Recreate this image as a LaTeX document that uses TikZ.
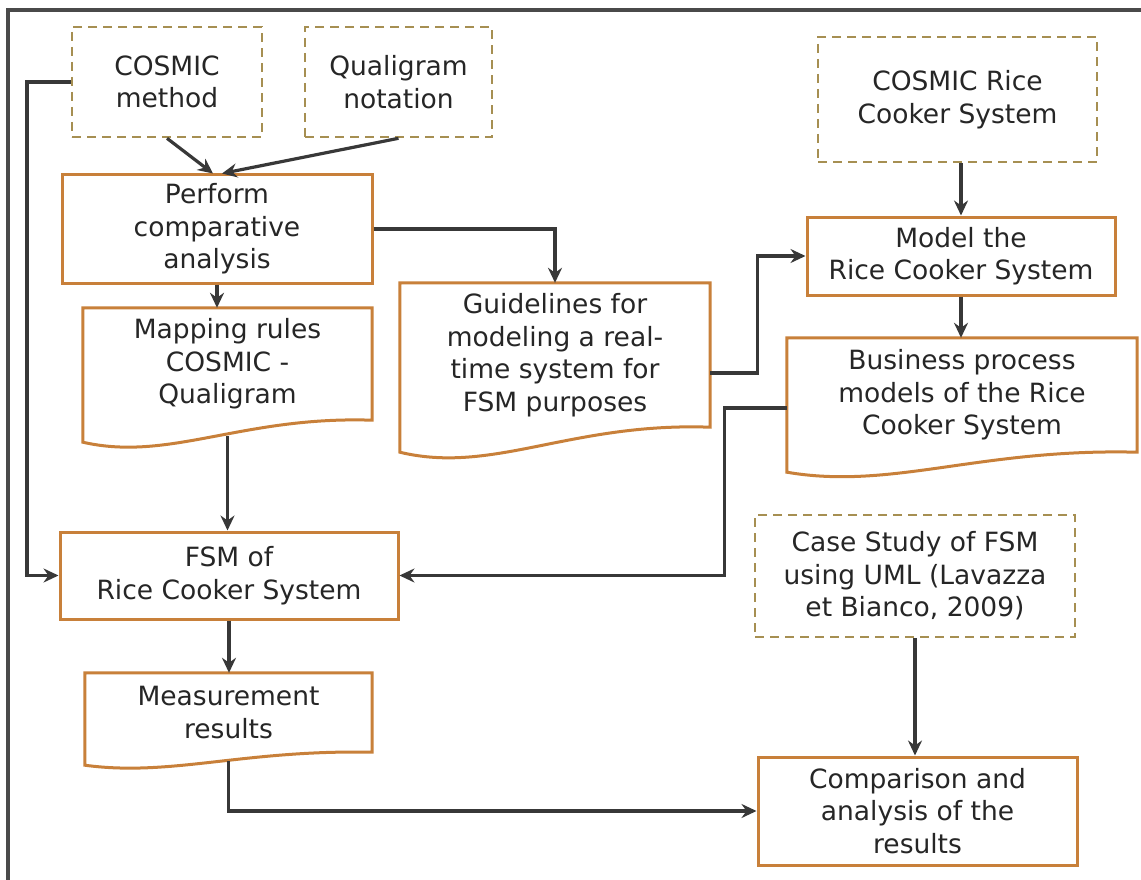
\documentclass[tikz,border=0pt]{standalone}
\usepackage{fontspec}
\setmainfont{DejaVu Sans}
\usetikzlibrary{arrows.meta,calc}
\definecolor{boxedge}{HTML}{C8803A}
\definecolor{dashedge}{HTML}{A68F52}
\definecolor{wire}{HTML}{383838}
\definecolor{ink}{HTML}{262626}
\definecolor{framegray}{HTML}{4A4A4A}

% document-shaped outline: wavy lower edge, left corner #2 below the right one
\newcommand\docoutline[2]{%
  \draw[docedge] (#1.south east)
    .. controls ($(#1.south west)!0.55!(#1.south east)+(0,-0.2*#2)$)
           and ($(#1.south west)!0.3!(#1.south east)+(0,1.9*#2)$)
    .. ($(#1.south west)+(0,#2)$) -- (#1.north west) -- (#1.north east) -- cycle;}

\begin{document}
\begin{tikzpicture}[x=1pt,y=-1pt,
  every node/.style={font=\fontsize{26.5}{32.5}\selectfont, text=ink,
                     align=center, inner sep=0pt},
  procbox/.style={draw=boxedge, line width=3pt},
  inputbox/.style={draw=dashedge, line width=2.6pt, dash pattern=on 9pt off 6pt},
  docnode/.style={draw=none},
  docedge/.style={draw=boxedge, line width=3pt, line join=miter},
  link/.style={draw=wire, line width=3.2pt,
               -{Stealth[length=15pt,width=14pt,inset=5pt]}}]

% page and frame
\fill[white] (0,0) rectangle (1141,880);
\useasboundingbox (0,0) rectangle (1141,880);
\draw[framegray, line width=3.2pt] (8,880) -- (8,10) -- (1141,10);

% inputs
\node[inputbox, minimum width=190pt, minimum height=110pt] (cosmic) at (167,82) {COSMIC\\method};
\node[inputbox, minimum width=187pt, minimum height=110pt] (qual) at (398.5,82) {Qualigram\\notation};
\node[inputbox, minimum width=279pt, minimum height=125pt] (crs) at (957.5,99.5) {COSMIC Rice\\Cooker System};
\node[inputbox, minimum width=320pt, minimum height=122pt] (case) at (915,576) {Case Study of FSM\\using UML (Lavazza\\et Bianco, 2009)};

% processes
\node[procbox, minimum width=310pt, minimum height=108pt] (perform) at (217,229) {Perform\\comparative\\analysis};
\node[procbox, minimum width=308pt, minimum height=78pt] (model) at (961,256) {Model the\\Rice Cooker System};
\node[procbox, minimum width=338pt, minimum height=87pt] (fsm) at (229,575.5) {FSM of\\Rice Cooker System};
\node[procbox, minimum width=319pt, minimum height=108pt] (comp) at (917.5,811) {Comparison and\\analysis of the\\results};

% documents
\node[docnode, minimum width=289pt, minimum height=112pt] (map) at (227.5,364) {Mapping rules\\COSMIC -\\Qualigram};
\docoutline{map}{22}
\node[docnode, minimum width=310pt, minimum height=144pt] (guide) at (555,355) {Guidelines for\\modeling a real-\\time system for\\FSM purposes};
\docoutline{guide}{25}
\node[docnode, minimum width=350pt, minimum height=114pt] (bus) at (962,395) {Business process\\models of the Rice\\Cooker System};
\docoutline{bus}{20}
\node[docnode, minimum width=287pt, minimum height=79pt] (meas) at (228.5,712.5) {Measurement\\results};
\docoutline{meas}{13}

% connector anchor points
\coordinate (cosmicL) at (27,82);
\coordinate (mapOut) at ($(map.south)+(0,16)$);
\coordinate (measOut) at ($(meas.south)+(0,9)$);
\coordinate (guideOut) at ($(guide.east)+(0,18)$);
\coordinate (guideBend) at ($(guideOut)+(47,0)$);
\coordinate (busOut) at ($(bus.west)+(0,13)$);
\coordinate (busBend) at ($(busOut)+(-62,0)$);

% connectors
\draw[link] (cosmic.south) -- ($(perform.north)+(-4,0)$);
\draw[link] (qual.south) -- ($(perform.north)+(5,0)$);
\draw[link] (perform.south) -- (perform.south |- map.north);
\draw[link] (perform.east) -| (guide.north);
\draw[link] (guideOut) -- (guideBend) |- (model.west);
\draw[link] (model.north |- crs.south) -- (model.north);
\draw[link] (model.south) -- (model.south |- bus.north);
\draw[link] (busOut) -- (busBend) |- (fsm.east);
\draw[link] (cosmic.west) -- (cosmicL) |- (fsm.west);
\draw[link] (mapOut) -- (mapOut |- fsm.north);
\draw[link] (fsm.south) -- (fsm.south |- meas.north);
\draw[link] (measOut) |- (comp.west);
\draw[link] (case.south) -- (case.south |- comp.north);
\end{tikzpicture}
\end{document}
